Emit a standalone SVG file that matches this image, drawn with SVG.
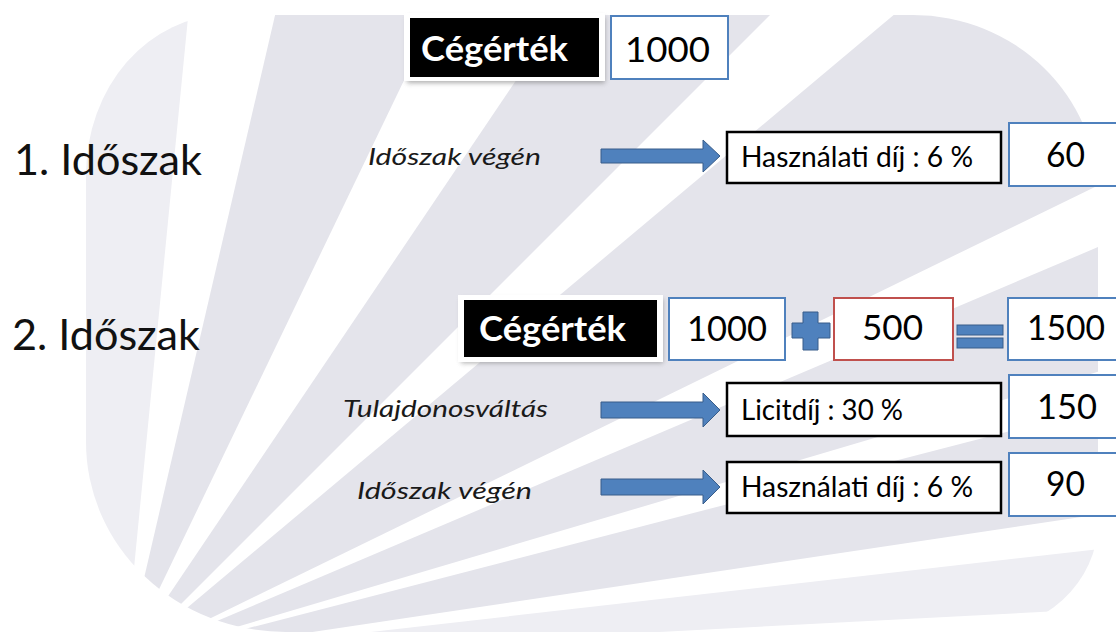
<svg xmlns="http://www.w3.org/2000/svg" width="1116" height="635" viewBox="0 0 1116 635">
<style>
.band{fill:#e4e4eb}
.band-light{fill:#eeeef3}
.vbox{fill:#fff;stroke:#4f81bd;stroke-width:2}
.rbox{fill:#fff;stroke:#c0504d;stroke-width:2}
.kbox{fill:#fff;stroke:#000;stroke-width:2.5}
.blk{fill:#000}
.frame{fill:#fff}
.op{fill:#4f81bd;stroke:#385d8a;stroke-width:1}
.arrow{fill:#4f81bd;stroke:#385d8a;stroke-width:1}
text{font-family:Lato,'Liberation Sans',sans-serif}
.big{font-size:42px;fill:#111}
.title{font-size:35px;font-weight:bold;fill:#fff}
.num{font-size:35px;fill:#000}
.ital{font-size:24px;font-style:italic;fill:#1a1a1a}
.lbl{font-size:28px;fill:#000}
</style>
<defs>
<clipPath id="bgclip">
<path d="M226,15 H913 A185,180 0 0 1 1098,195 V522 A120,110 0 0 1 978,632 H286 A200,190 0 0 1 86,442 V175 A140,160 0 0 1 226,15 Z"/>
</clipPath>
<filter id="shadow" x="-10%" y="-20%" width="130%" height="150%">
<feGaussianBlur stdDeviation="2.5"/>
</filter>
</defs>
<rect width="1116" height="635" fill="#fff"/>
<g id="background" clip-path="url(#bgclip)">
<polygon class="band-light" points="125,660 -625,-639 271.4,-832.8"/>
<polygon class="band" points="125,660 465.0,-801.0 775.6,-691.7"/>
<polygon class="band" points="125,660 963.8,-583.5 1185.7,-400.7"/>
<polygon class="band" points="125,660 1274.0,-304.2 1473.2,2.4"/>
<polygon class="band" points="125,660 1505.8,74.0 1563.2,234.0"/>
<polygon class="band" points="125,660 1577.2,284.4 1608.5,438.3"/>
<polygon class="band-light" points="125,660 1615.4,490.2 1622.9,581.5"/>
</g>
<g id="label-period1"><text class="big" x="14" y="175" textLength="188" lengthAdjust="spacingAndGlyphs">1. Időszak</text></g>
<g id="node-cegertek1">
<rect x="407" y="17" width="198" height="66" fill="#777" opacity="0.6" filter="url(#shadow)"/>
<rect class="frame" x="404" y="13" width="201" height="68"/>
<rect class="blk" x="410" y="18" width="189" height="59"/>
<text class="title" x="421" y="61" textLength="147" lengthAdjust="spacingAndGlyphs">Cégérték</text>
</g>
<g id="node-value1000a">
<rect class="vbox" x="611" y="16" width="117" height="63"/>
<text class="num" x="625" y="62" textLength="85" lengthAdjust="spacingAndGlyphs">1000</text>
</g>
<g id="label-vegen1"><text class="ital" x="368" y="165" textLength="173" lengthAdjust="spacingAndGlyphs">Időszak végén</text></g>
<g id="node-hasznalati1">
<rect class="kbox" x="727" y="132" width="274" height="51"/>
<text class="lbl" x="741" y="167" textLength="232" lengthAdjust="spacingAndGlyphs">Használati díj : 6 %</text>
</g>
<g id="node-value60">
<rect class="vbox" x="1009" y="123" width="125" height="63"/>
<text class="num" x="1046" y="167" textLength="39" lengthAdjust="spacingAndGlyphs">60</text>
</g>
<g id="label-period2"><text class="big" x="12" y="350" textLength="188" lengthAdjust="spacingAndGlyphs">2. Időszak</text></g>
<g id="node-cegertek2">
<rect x="461" y="299" width="202" height="64" fill="#777" opacity="0.6" filter="url(#shadow)"/>
<rect class="frame" x="458" y="295" width="205" height="67"/>
<rect class="blk" x="464" y="300" width="193" height="57"/>
<text class="title" x="479" y="341" textLength="147" lengthAdjust="spacingAndGlyphs">Cégérték</text>
</g>
<g id="node-value1000b">
<rect class="vbox" x="669" y="298" width="116" height="62"/>
<text class="num" x="687" y="341" textLength="80" lengthAdjust="spacingAndGlyphs">1000</text>
</g>
<g id="op-plus">
<path class="op" d="M803,312 H818 V323 H830 V338 H818 V350 H803 V338 H792 V323 H803 Z"/>
</g>
<g id="node-value500">
<rect class="rbox" x="834" y="298" width="119" height="62"/>
<text class="num" x="862" y="340" textLength="61" lengthAdjust="spacingAndGlyphs">500</text>
</g>
<g id="op-equals">
<rect class="op" x="957" y="325" width="46" height="10"/>
<rect class="op" x="957" y="338" width="46" height="10"/>
</g>
<g id="node-value1500">
<rect class="vbox" x="1008" y="298" width="126" height="62"/>
<text class="num" x="1027" y="340" textLength="78" lengthAdjust="spacingAndGlyphs">1500</text>
</g>
<g id="label-tulajdonosvaltas"><text class="ital" x="343" y="417" textLength="205" lengthAdjust="spacingAndGlyphs">Tulajdonosváltás</text></g>
<g id="node-licitdij">
<rect class="kbox" x="727" y="383" width="274" height="53"/>
<text class="lbl" x="741" y="420" textLength="162" lengthAdjust="spacingAndGlyphs">Licitdíj : 30 %</text>
</g>
<g id="node-value150">
<rect class="vbox" x="1009" y="375" width="125" height="63"/>
<text class="num" x="1037" y="419" textLength="60" lengthAdjust="spacingAndGlyphs">150</text>
</g>
<g id="label-vegen2"><text class="ital" x="357" y="499" textLength="175" lengthAdjust="spacingAndGlyphs">Időszak végén</text></g>
<g id="node-hasznalati2">
<rect class="kbox" x="727" y="462" width="274" height="51"/>
<text class="lbl" x="741" y="497" textLength="232" lengthAdjust="spacingAndGlyphs">Használati díj : 6 %</text>
</g>
<g id="node-value90">
<rect class="vbox" x="1009" y="453" width="125" height="63"/>
<text class="num" x="1046" y="496" textLength="39" lengthAdjust="spacingAndGlyphs">90</text>
</g>
<g id="connectors">
<path class="arrow" d="M601,149 H703 V140 L720,156 L703,172 V163 H601 Z"/>
<path class="arrow" d="M601,402 H703 V393 L720,410 L703,427 V418 H601 Z"/>
<path class="arrow" d="M601,479 H703 V470 L720,487 L703,504 V495 H601 Z"/>
</g>
</svg>
